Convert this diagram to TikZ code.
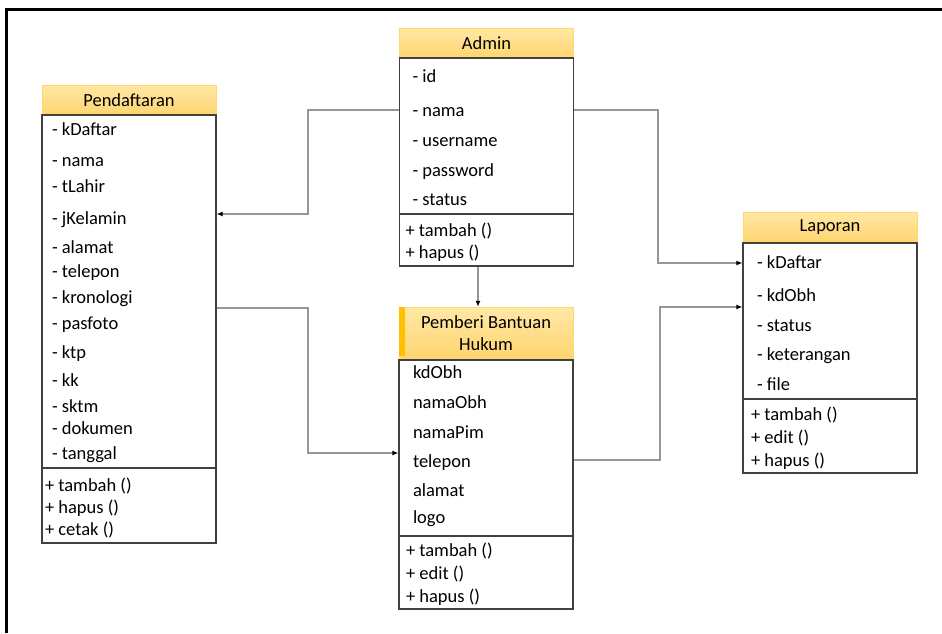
\documentclass[tikz,border=0pt]{standalone}
\usepackage{fontspec}
\setmainfont{Carlito}
\usetikzlibrary{arrows.meta}
\definecolor{headtop}{RGB}{255,232,165}
\definecolor{headbot}{RGB}{255,212,110}
\definecolor{headedge}{RGB}{255,216,110}
\definecolor{headdark}{RGB}{255,192,0}
\definecolor{boxline}{RGB}{64,64,64}
\definecolor{linkgray}{RGB}{150,150,150}
\tikzset{
  classhead/.style={rectangle,draw=headedge,top color=headtop,bottom color=headbot,minimum width=174pt,minimum height=30pt,inner sep=0pt,align=center,font=\fontsize{18.5}{22}\selectfont},
  classbox/.style={rectangle,draw=boxline,line width=1.1pt,fill=white,minimum width=174pt,inner sep=0pt},
  link/.style={draw=linkgray,line width=1.4pt,-{Latex[color=black,length=6pt,width=5pt]}}
}

\begin{document}
\begin{tikzpicture}[x=1pt,y=-1pt]
\useasboundingbox (0,0) rectangle (942,633);
% Frame
\draw[line width=3pt] (6,633) -- (6,9) -- (942,9);

% Pendaftaran class
\node[classhead] (pdHead) at (129,100) {Pendaftaran};
\node[classbox,minimum height=353pt] (pdAttr) at (129,291.5) {
\begin{minipage}{154pt}
\vspace*{3pt}
\fontsize{18.5}{24}\selectfont
- kDaftar\\[7pt]
- nama\\[2pt]
- tLahir\\[8pt]
- jKelamin\\[5pt]
- alamat\\
- telepon\\[2pt]
- kronologi\\[2pt]
- pasfoto\\[5pt]
- ktp\\[4pt]
- kk\\[2pt]
- sktm\\[-2pt]
- dokumen\\[1pt]
- tanggal
\end{minipage}
};
\node[classbox,minimum height=75pt] (pdMeth) at (129,505.5) {
\begin{minipage}{168pt}
\vspace*{5pt}
\fontsize{18.5}{22}\selectfont
+ tambah ()\\
+ hapus ()\\
+ cetak ()
\end{minipage}
};

% Admin class
\node[classhead] (admHead) at (486.5,43) {Admin};
\node[classbox,minimum height=156pt] (admAttr) at (486.5,136) {
\begin{minipage}{148pt}
\vspace*{4pt}
\fontsize{18.5}{30}\selectfont
- id\\[4pt]
- nama\\
- username\\
- password\\[-1pt]
- status
\end{minipage}
};
\node[classbox,minimum height=52pt] (admMeth) at (486.5,240) {
\begin{minipage}{162pt}
\vspace*{5pt}
\fontsize{18.5}{22}\selectfont
+ tambah ()\\
+ hapus ()
\end{minipage}
};

% Pemberi Bantuan Hukum class
\node[classhead,minimum height=53pt] (pbhHead) at (486,333.5) {Pemberi Bantuan\\Hukum};
\fill[headdark] (399,307) rectangle (405,356);
\node[classbox,minimum height=176pt] (pbhAttr) at (486,448) {
\begin{minipage}{146pt}
\fontsize{18.5}{29}\selectfont
kdObh\\[1pt]
namaObh\\[1pt]
namaPim\\
telepon\\
alamat\\[-2pt]
logo\par
\vspace{4pt}
\end{minipage}
};
\node[classbox,minimum height=73pt] (pbhMeth) at (486,572.5) {
\begin{minipage}{160pt}
\vspace*{4pt}
\fontsize{18.5}{23}\selectfont
+ tambah ()\\
+ edit ()\\
+ hapus ()
\end{minipage}
};

% Laporan class
\node[classhead,minimum height=31pt] (lpHead) at (830,227.5) {Laporan};
\node[classbox,minimum height=156pt] (lpAttr) at (830,321) {
\begin{minipage}{146pt}
\vspace*{4pt}
\fontsize{18.5}{30}\selectfont
- kDaftar\\[3pt]
- kdObh\\
- status\\[-1pt]
- keterangan\\
- file
\end{minipage}
};
\node[classbox,minimum height=74pt] (lpMeth) at (830,436) {
\begin{minipage}{158pt}
\vspace*{4pt}
\fontsize{18.5}{23}\selectfont
+ tambah ()\\
+ edit ()\\
+ hapus ()
\end{minipage}
};

% Connection lines
\draw[link] (admAttr.west |- 0,110) -- (308,110) |- (pdAttr.east |- 0,214);
\draw[link] (admAttr.east |- 0,110) -- (658,110) |- (lpAttr.west |- 0,263);
\draw[link] (admMeth.south -| 478,0) -- (pbhHead.north -| 478,0);
\draw[link] (pdAttr.east |- 0,308) -- (308,308) |- (pbhAttr.west |- 0,453);
\draw[link] (pbhAttr.east |- 0,460) -- (660,460) |- (lpAttr.west |- 0,307);
\end{tikzpicture}
\end{document}
